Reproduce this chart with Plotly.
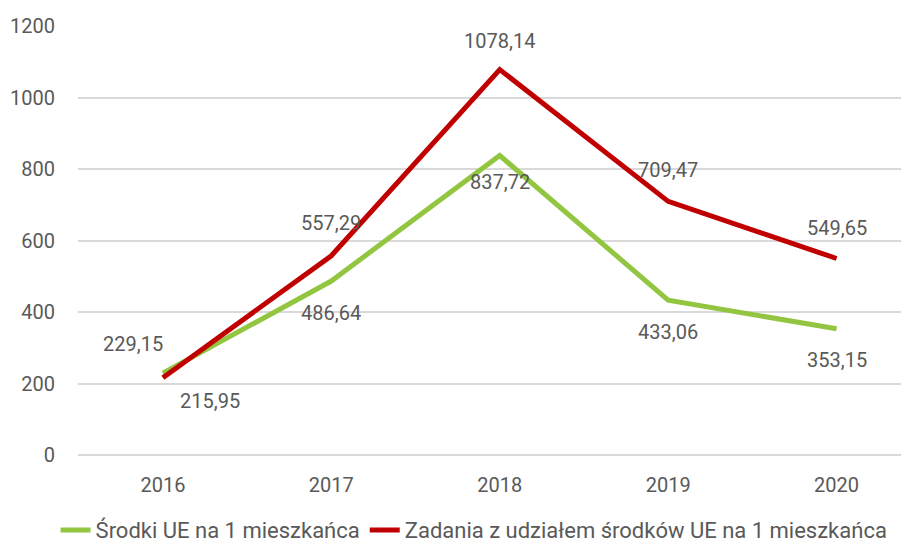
import plotly.graph_objects as go

years = ["2016", "2017", "2018", "2019", "2020"]
srodki = [229.15, 486.64, 837.72, 433.06, 353.15]
zadania = [215.95, 557.29, 1078.14, 709.47, 549.65]

name_srodki = "Środki UE na 1 mieszkańca"
name_zadania = "Zadania z udziałem środków UE na 1 mieszkańca"

GREEN = "#92C540"
RED = "#C00000"
GREY = "#595959"
FONT = "Roboto, sans-serif"


def fmt(v):
    return f"{v:.2f}".replace(".", ",")


fig = go.Figure()
fig.add_trace(go.Scatter(x=years, y=srodki, name=name_srodki, mode="lines",
                         line=dict(color=GREEN, width=5)))
fig.add_trace(go.Scatter(x=years, y=zadania, name=name_zadania, mode="lines",
                         line=dict(color=RED, width=5)))

# label offsets (px) per point
green_shift = [(-30, 29), (0, -32), (0, -26), (0, -32), (0, -31)]
red_shift = [(47, -23), (0, 33), (0, 29), (0, 31), (0, 31)]

# annotations use category index, numeric-looking category names get misread
for i, (v, (dx, dy)) in enumerate(zip(srodki, green_shift)):
    fig.add_annotation(x=i, y=v, text=fmt(v), showarrow=False,
                       xshift=dx, yshift=dy, font=dict(size=20, color=GREY, family=FONT))
for i, (v, (dx, dy)) in enumerate(zip(zadania, red_shift)):
    fig.add_annotation(x=i, y=v, text=fmt(v), showarrow=False,
                       xshift=dx, yshift=dy, font=dict(size=20, color=GREY, family=FONT))

# page body has an 8px margin, so the figure is a bit smaller than the window
fig.update_layout(
    width=901, height=536,
    margin=dict(l=70, r=0, t=18, b=89, autoexpand=False),
    plot_bgcolor="white", paper_bgcolor="white",
    font=dict(family=FONT, size=20, color=GREY),
    showlegend=True,
    legend=dict(orientation="h", x=-0.027, xanchor="left", y=-0.175, yanchor="middle",
                font=dict(size=22, color=GREY), tracegroupgap=0),
)
fig.update_xaxes(type="category", range=[-0.504, 4.43], showgrid=False, showline=False,
                 ticks="", ticklabelstandoff=16, tickfont=dict(size=20, color=GREY))
fig.update_yaxes(range=[0, 1200], dtick=200, showgrid=True, gridcolor="#D9D9D9", gridwidth=1.5,
                 zeroline=True, zerolinecolor="#D9D9D9", zerolinewidth=1.5, showline=False,
                 ticks="", ticklabelstandoff=22, tickfont=dict(size=20, color=GREY))

fig.write_html("out.html")
